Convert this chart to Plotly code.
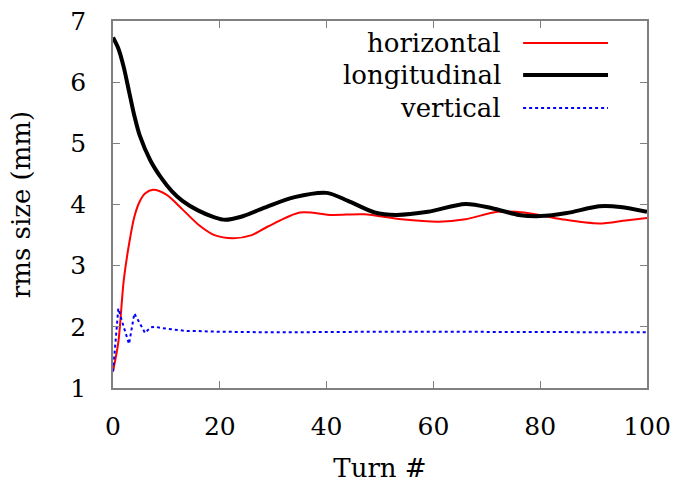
import plotly.graph_objects as go

# rms beam size vs turn number
turn_long = [0, 1, 2, 3, 4, 5, 7, 9, 11, 13, 16, 19, 21, 24, 29, 34, 40, 44, 49, 53, 59, 66, 71, 76, 80, 85, 91, 95, 100]
size_long = [6.73, 6.55, 6.25, 5.85, 5.45, 5.13, 4.72, 4.44, 4.22, 4.06, 3.90, 3.79, 3.75, 3.80, 3.97, 4.12, 4.19, 4.06, 3.87, 3.83, 3.88, 4.01, 3.94, 3.83, 3.81, 3.86, 3.97, 3.96, 3.88]

turn_horiz = [0, 1, 2, 3, 4, 5, 6, 7.5, 10, 13, 16, 19, 22.5, 26, 29, 35, 41, 47, 54, 61, 66, 72, 77, 84, 91, 96, 100]
size_horiz = [1.27, 1.75, 2.75, 3.35, 3.80, 4.05, 4.18, 4.24, 4.16, 3.92, 3.67, 3.50, 3.45, 3.50, 3.64, 3.87, 3.83, 3.84, 3.76, 3.72, 3.76, 3.88, 3.87, 3.76, 3.69, 3.74, 3.78]

turn_vert = [0, 1, 2, 3, 4, 5, 6, 7, 8, 9, 10, 12, 14, 16, 20, 30, 40, 50, 60, 70, 80, 90, 100]
size_vert = [1.27, 2.30, 2.00, 1.72, 2.22, 2.05, 1.90, 1.99, 2.00, 1.98, 1.97, 1.96, 1.93, 1.93, 1.92, 1.91, 1.92, 1.92, 1.92, 1.92, 1.91, 1.91, 1.91]

x_ticks = [0, 20, 40, 60, 80, 100]
y_ticks = [1, 2, 3, 4, 5, 6, 7]

series_names = ["horizontal", "longitudinal", "vertical"]
series_colors = ["#ff0000", "#000000", "#0000ff"]
series_widths = [2, 4, 2]
series_dash = ["solid", "solid", "dot"]

FONT = "DejaVu Serif"
TICK_SIZE = 25
TEXT_SIZE = 26

fig = go.Figure()
fig.add_trace(go.Scatter(x=turn_horiz, y=size_horiz, mode="lines", name=series_names[0],
                         line=dict(color=series_colors[0], width=series_widths[0], shape="spline", smoothing=0.8)))
fig.add_trace(go.Scatter(x=turn_long, y=size_long, mode="lines", name=series_names[1],
                         line=dict(color=series_colors[1], width=series_widths[1], shape="spline", smoothing=0.8)))
fig.add_trace(go.Scatter(x=turn_vert, y=size_vert, mode="lines", name=series_names[2],
                         line=dict(color=series_colors[2], width=series_widths[2], dash=series_dash[2])))

# key drawn by hand: right-aligned labels followed by line samples
row_y = [0.940, 0.853, 0.763]
for name, color, width, dash, yy in zip(series_names, series_colors, series_widths, series_dash, row_y):
    fig.add_annotation(x=0.730, y=yy, xref="paper", yref="paper", text=name, showarrow=False,
                       xanchor="right", yanchor="middle", font=dict(family=FONT, size=TEXT_SIZE, color="black"))
    fig.add_shape(type="line", xref="paper", yref="paper", x0=0.768, x1=0.927, y0=yy, y1=yy,
                  line=dict(color=color, width=width, dash=dash))

axis_common = dict(showline=True, linecolor="#808080", linewidth=1.5, mirror="ticks",
                   ticks="inside", ticklen=7, tickcolor="#808080", tickwidth=1,
                   showgrid=False, zeroline=False, automargin=False,
                   tickfont=dict(family=FONT, size=TICK_SIZE, color="black"))

fig.update_layout(
    width=677, height=483,
    margin=dict(l=113, r=30, t=21, b=95),
    paper_bgcolor="white", plot_bgcolor="white",
    showlegend=False,
    font=dict(family=FONT),
    xaxis=dict(range=[0, 100], tickvals=x_ticks, ticklabelstandoff=15,
               title=dict(text="Turn #", font=dict(family=FONT, size=TEXT_SIZE, color="black"), standoff=19),
               **axis_common),
    yaxis=dict(range=[1, 7], tickvals=y_ticks, ticklabelstandoff=20,
               title=dict(text="rms size (mm)", font=dict(family=FONT, size=TEXT_SIZE, color="black"), standoff=32),
               **axis_common),
)

fig.write_html("out.html")
